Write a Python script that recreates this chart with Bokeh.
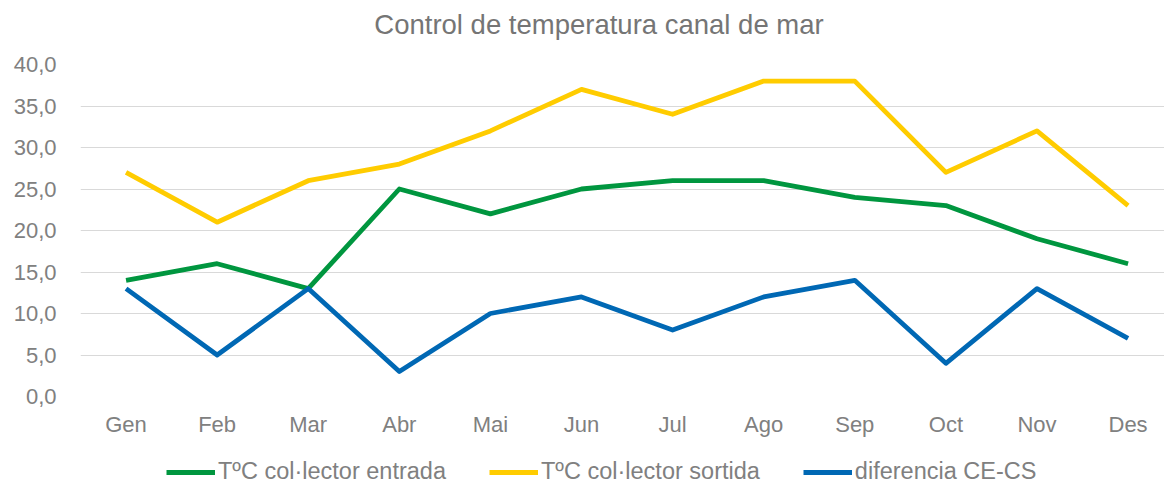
from bokeh.plotting import figure
from bokeh.layouts import column
from bokeh.models import (ColumnDataSource, Legend, LegendItem, CustomJSTickFormatter,
                          Range1d, FixedTicker, Label)
from bokeh.embed import file_html
from bokeh.resources import INLINE

months = ["Gen", "Feb", "Mar", "Abr", "Mai", "Jun", "Jul", "Ago", "Sep", "Oct", "Nov", "Des"]
entrada = [14, 16, 13, 25, 22, 25, 26, 26, 24, 23, 19, 16]
sortida = [27, 21, 26, 28, 32, 37, 34, 38, 38, 27, 32, 23]
diferencia = [13, 5, 13, 3, 10, 12, 8, 12, 14, 4, 13, 7]
labels = ["TºC col·lector entrada", "TºC col·lector sortida", "diferencia CE-CS"]
colors = ["#00963F", "#FFCC00", "#0068B4"]
y_ticks = [0, 5, 10, 15, 20, 25, 30, 35, 40]
title_text = "Control de temperatura canal de mar"

FONT = "Liberation Sans"
TXT = "#808080"
W = 1164
LEFT = 80

# title strip (frame aligned with the main plot's frame: x from LEFT to W)
TH = 50
ts = figure(x_range=Range1d(LEFT, W), y_range=Range1d(0, TH), width=W, height=TH,
            output_backend="svg", toolbar_location=None, title=None,
            x_axis_location=None, y_axis_location=None,
            min_border_left=0, min_border_right=0, min_border_top=0, min_border_bottom=0)
ts.outline_line_color = None
ts.xgrid.grid_line_color = None
ts.ygrid.grid_line_color = None
ts.add_layout(Label(x=598.5, y=TH - 24, text=title_text, text_align="center",
                    text_baseline="alphabetic", text_font=FONT, text_font_size="27.5px",
                    text_color="#757575"))

idx = list(range(len(months)))
src = ColumnDataSource(dict(x=idx, e=entrada, s=sortida, d=diferencia))

p = figure(x_range=Range1d(-0.5, 11.4), y_range=Range1d(0, 40), width=W, height=440 - TH,
           output_backend="svg", toolbar_location=None, title=None,
           min_border_left=LEFT, min_border_right=0, min_border_top=64 - TH, min_border_bottom=44)

for key, c in zip(["e", "s", "d"], colors):
    p.line("x", key, source=src, line_color=c, line_width=4.8, line_join="round")

p.outline_line_color = None
p.xgrid.grid_line_color = None
p.ygrid.grid_line_color = "#D9D9D9"
p.ygrid.grid_line_width = 1

p.yaxis.ticker = FixedTicker(ticks=y_ticks)
p.yaxis.formatter = CustomJSTickFormatter(code="return tick.toFixed(1).replace('.', ',');")
p.xaxis.ticker = FixedTicker(ticks=idx)
p.xaxis.major_label_overrides = {i: m for i, m in zip(idx, months)}
for ax in (p.xaxis, p.yaxis):
    ax.axis_line_color = None
    ax.major_tick_line_color = None
    ax.minor_tick_line_color = None
    ax.major_label_text_font = FONT
    ax.major_label_text_font_size = "22px"
    ax.major_label_text_color = TXT
p.yaxis.major_label_standoff = 18
p.xaxis.major_label_standoff = 9

# legend strip
lg = figure(x_range=Range1d(0, 1), y_range=Range1d(100, 101), width=W, height=46,
            output_backend="svg", toolbar_location=None, title=None,
            x_axis_location=None, y_axis_location=None,
            min_border_left=0, min_border_right=0, min_border_top=0, min_border_bottom=0)
lg.outline_line_color = None
lg.xgrid.grid_line_color = None
lg.ygrid.grid_line_color = None
rs = []
for key, c in zip(["e", "s", "d"], colors):
    rs.append(lg.line("x", key, source=src, line_color=c, line_width=5))

legend = Legend(items=[LegendItem(label=l, renderers=[r]) for l, r in zip(labels, rs)],
                orientation="horizontal", location=(86, 1),
                label_text_font=FONT, label_text_font_size="23.5px", label_text_color=TXT,
                glyph_width=49, glyph_height=12, label_standoff=3, spacing=43,
                border_line_color=None, background_fill_alpha=0, margin=0, padding=0)
lg.add_layout(legend, "center")

open("out.html", "w").write(file_html(column(ts, p, lg, spacing=0), INLINE))
